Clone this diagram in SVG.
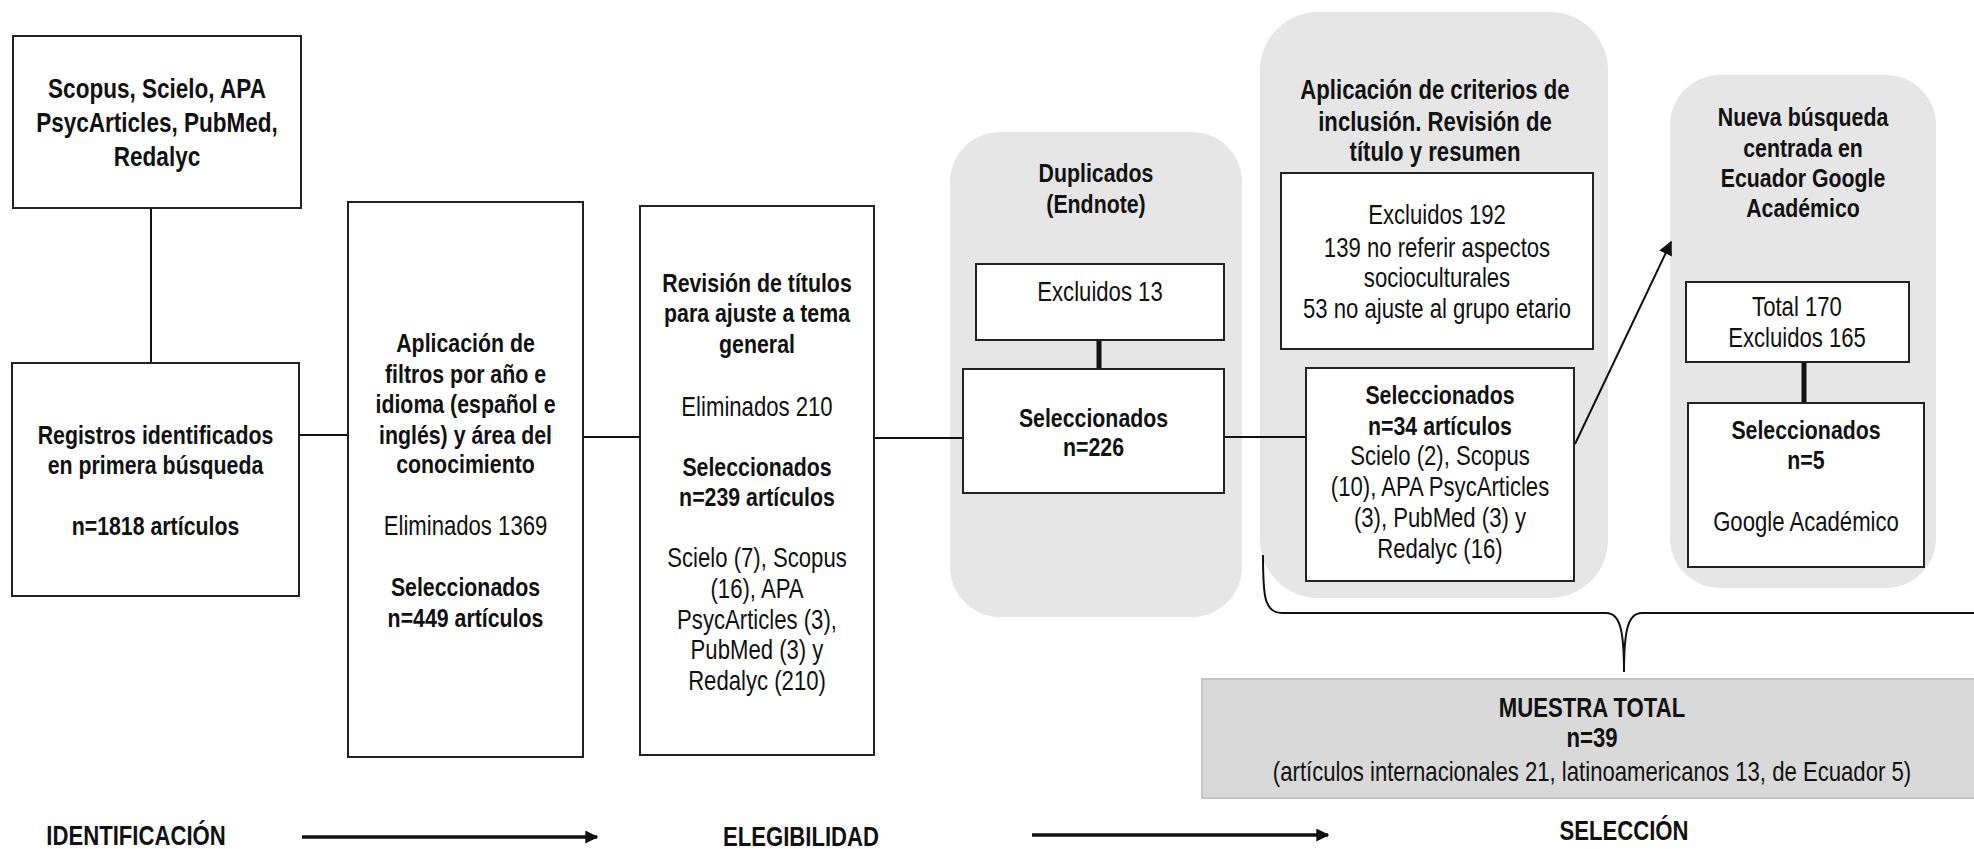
<svg xmlns="http://www.w3.org/2000/svg" width="1974" height="849" viewBox="0 0 1974 849">
<defs>
<style>
.box{fill:#fff;stroke:#222;stroke-width:2}
.grp{fill:#e6e6e6;stroke:none}
.ln{stroke:#111;stroke-width:2;fill:none}
.thick{stroke:#111;stroke-width:5;fill:none}
.big{stroke:#111;stroke-width:3.5;fill:none}
.b{font-family:"Liberation Sans",Arial,sans-serif;font-weight:bold;font-size:26px;text-anchor:middle;fill:#111}
.r{font-family:"Liberation Sans",Arial,sans-serif;font-size:27px;text-anchor:middle;fill:#111}
.b1{font-size:27.5px}
.b2{font-size:27px}
.lab{font-family:"Liberation Sans",Arial,sans-serif;font-weight:bold;font-size:27px;text-anchor:middle;fill:#111}
</style>
<marker id="ah" viewBox="0 0 10 10" refX="9" refY="5" markerWidth="16" markerHeight="14" orient="auto" markerUnits="userSpaceOnUse">
<path d="M0,0 L10,5 L0,10 z" fill="#111"/>
</marker>
<marker id="ah2" viewBox="0 0 10 10" refX="9" refY="5" markerWidth="13" markerHeight="13" orient="auto" markerUnits="userSpaceOnUse">
<path d="M0,0 L10,5 L0,10 z" fill="#111"/>
</marker>
</defs>

<rect id="grp-duplicados" class="grp" x="950" y="132" width="292" height="485" rx="50"/>
<rect id="grp-criterios" class="grp" x="1260" y="12" width="348" height="586" rx="58"/>
<rect id="grp-nueva" class="grp" x="1670" y="75" width="266" height="513" rx="50"/>

<g id="connectors">
<line class="ln" x1="151" y1="208" x2="151" y2="363"/>
<line class="ln" x1="299" y1="435" x2="348" y2="435"/>
<line class="ln" x1="583" y1="437" x2="640" y2="437"/>
<line class="ln" x1="874" y1="438" x2="963" y2="438"/>
<line class="ln" x1="1224" y1="437" x2="1306" y2="437"/>
<line class="thick" x1="1099" y1="340" x2="1099" y2="369"/>
<line class="thick" x1="1804" y1="362" x2="1804" y2="403"/>
<line class="ln" x1="1575" y1="444" x2="1671" y2="242" marker-end="url(#ah)"/>
<path class="ln" d="M1263,555 C1263,595 1264,613 1282,613 L1606,613 C1620,613 1624,630 1624,672 C1624,630 1628,613 1642,613 L1974,613"/>
<line class="big" x1="302" y1="837" x2="597" y2="837" marker-end="url(#ah2)"/>
<line class="big" x1="1032" y1="835" x2="1328" y2="835" marker-end="url(#ah2)"/>
</g>

<g id="n-fuentes">
<rect class="box" x="13" y="36" width="288" height="172"/>
<text class="b b1" transform="matrix(0.82 0 0 1 157 98)">Scopus, Scielo, APA</text>
<text class="b b1" transform="matrix(0.82 0 0 1 157 132)">PsycArticles, PubMed,</text>
<text class="b b1" transform="matrix(0.82 0 0 1 157 166)">Redalyc</text>
</g>

<g id="n-registros">
<rect class="box" x="12" y="363" width="287" height="233"/>
<text class="b" transform="matrix(0.82 0 0 1 155.5 444)">Registros identificados</text>
<text class="b" transform="matrix(0.82 0 0 1 155.5 474)">en primera búsqueda</text>
<text class="b" transform="matrix(0.82 0 0 1 155.5 535)">n=1818 artículos</text>
</g>

<g id="n-filtros">
<rect class="box" x="348" y="202" width="235" height="555"/>
<text class="b" transform="matrix(0.82 0 0 1 465.5 352)">Aplicación de</text>
<text class="b" transform="matrix(0.82 0 0 1 465.5 383)">filtros por año e</text>
<text class="b" transform="matrix(0.82 0 0 1 465.5 413)">idioma (español e</text>
<text class="b" transform="matrix(0.82 0 0 1 465.5 444)">inglés) y área del</text>
<text class="b" transform="matrix(0.82 0 0 1 465.5 473)">conocimiento</text>
<text class="r" transform="matrix(0.82 0 0 1 465.5 535)">Eliminados 1369</text>
<text class="b" transform="matrix(0.82 0 0 1 465.5 596)">Seleccionados</text>
<text class="b" transform="matrix(0.82 0 0 1 465.5 627)">n=449 artículos</text>
</g>

<g id="n-titulos">
<rect class="box" x="640" y="206" width="234" height="549"/>
<text class="b" transform="matrix(0.82 0 0 1 757 292)">Revisión de títulos</text>
<text class="b" transform="matrix(0.82 0 0 1 757 322)">para ajuste a tema</text>
<text class="b" transform="matrix(0.82 0 0 1 757 353)">general</text>
<text class="r" transform="matrix(0.82 0 0 1 757 416)">Eliminados 210</text>
<text class="b" transform="matrix(0.82 0 0 1 757 476)">Seleccionados</text>
<text class="b" transform="matrix(0.82 0 0 1 757 506)">n=239 artículos</text>
<text class="r" transform="matrix(0.82 0 0 1 757 567)">Scielo (7), Scopus</text>
<text class="r" transform="matrix(0.82 0 0 1 757 598)">(16), APA</text>
<text class="r" transform="matrix(0.82 0 0 1 757 629)">PsycArticles (3),</text>
<text class="r" transform="matrix(0.82 0 0 1 757 659)">PubMed (3) y</text>
<text class="r" transform="matrix(0.82 0 0 1 757 690)">Redalyc (210)</text>
</g>

<g id="n-duplicados">
<text class="b" transform="matrix(0.82 0 0 1 1096 182)">Duplicados</text>
<text class="b" transform="matrix(0.82 0 0 1 1096 213)">(Endnote)</text>
</g>
<g id="n-excluidos13">
<rect class="box" x="976" y="264" width="248" height="76"/>
<text class="r" transform="matrix(0.82 0 0 1 1100 301)">Excluidos 13</text>
</g>
<g id="n-sel226">
<rect class="box" x="963" y="369" width="261" height="124"/>
<text class="b" transform="matrix(0.82 0 0 1 1093.5 427)">Seleccionados</text>
<text class="b" transform="matrix(0.82 0 0 1 1093.5 456)">n=226</text>
</g>

<g id="n-criterios">
<text class="b b2" transform="matrix(0.82 0 0 1 1435 99)">Aplicación de criterios de</text>
<text class="b b2" transform="matrix(0.82 0 0 1 1435 131)">inclusión. Revisión de</text>
<text class="b b2" transform="matrix(0.82 0 0 1 1435 161)">título y resumen</text>
</g>
<g id="n-excluidos192">
<rect class="box" x="1281" y="173" width="312" height="176"/>
<text class="r" transform="matrix(0.82 0 0 1 1437 224)">Excluidos 192</text>
<text class="r" transform="matrix(0.82 0 0 1 1437 257)">139 no referir aspectos</text>
<text class="r" transform="matrix(0.82 0 0 1 1437 287)">socioculturales</text>
<text class="r" transform="matrix(0.82 0 0 1 1437 318)">53 no ajuste al grupo etario</text>
</g>
<g id="n-sel34">
<rect class="box" x="1306" y="368" width="268" height="213"/>
<text class="b" transform="matrix(0.82 0 0 1 1440 404)">Seleccionados</text>
<text class="b" transform="matrix(0.82 0 0 1 1440 435)">n=34 artículos</text>
<text class="r" transform="matrix(0.82 0 0 1 1440 465)">Scielo (2), Scopus</text>
<text class="r" transform="matrix(0.82 0 0 1 1440 496)">(10), APA PsycArticles</text>
<text class="r" transform="matrix(0.82 0 0 1 1440 527)">(3), PubMed (3) y</text>
<text class="r" transform="matrix(0.82 0 0 1 1440 558)">Redalyc (16)</text>
</g>

<g id="n-nueva">
<text class="b" transform="matrix(0.82 0 0 1 1803 126)">Nueva búsqueda</text>
<text class="b" transform="matrix(0.82 0 0 1 1803 157)">centrada en</text>
<text class="b" transform="matrix(0.82 0 0 1 1803 187)">Ecuador Google</text>
<text class="b" transform="matrix(0.82 0 0 1 1803 217)">Académico</text>
</g>
<g id="n-total170">
<rect class="box" x="1686" y="282" width="223" height="80"/>
<text class="r" transform="matrix(0.82 0 0 1 1797 316)">Total 170</text>
<text class="r" transform="matrix(0.82 0 0 1 1797 347)">Excluidos 165</text>
</g>
<g id="n-sel5">
<rect class="box" x="1688" y="403" width="236" height="164"/>
<text class="b" transform="matrix(0.82 0 0 1 1806 439)">Seleccionados</text>
<text class="b" transform="matrix(0.82 0 0 1 1806 469)">n=5</text>
<text class="r" transform="matrix(0.82 0 0 1 1806 531)">Google Académico</text>
</g>

<g id="n-muestra">
<rect x="1202" y="679" width="780" height="119" fill="#d9d9d9" stroke="#c4c4c4" stroke-width="2"/>
<text class="b b2" transform="matrix(0.82 0 0 1 1592 717)">MUESTRA TOTAL</text>
<text class="b b2" transform="matrix(0.82 0 0 1 1592 747)">n=39</text>
<text class="r" transform="matrix(0.82 0 0 1 1592 781)">(artículos internacionales 21, latinoamericanos 13, de Ecuador 5)</text>
</g>

<g id="labels">
<text class="lab" transform="matrix(0.82 0 0 1 136 845)">IDENTIFICACIÓN</text>
<text class="lab" transform="matrix(0.82 0 0 1 801 846)">ELEGIBILIDAD</text>
<text class="lab" transform="matrix(0.82 0 0 1 1624 840)">SELECCIÓN</text>
</g>
</svg>
